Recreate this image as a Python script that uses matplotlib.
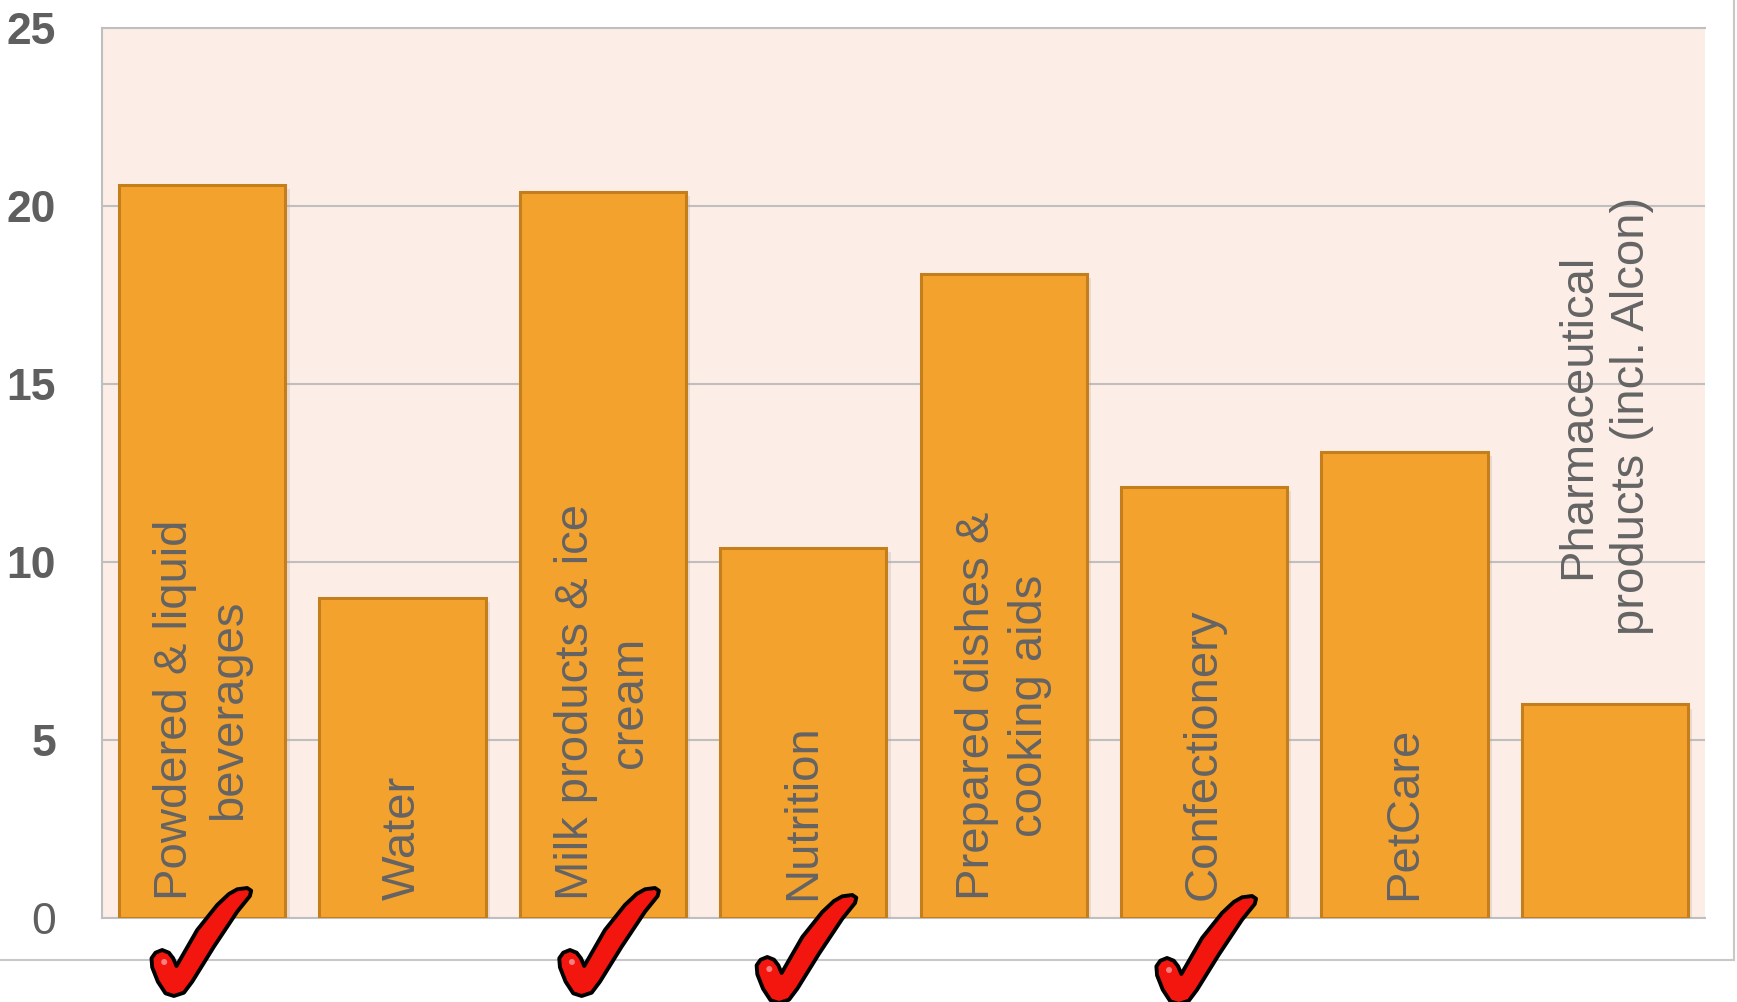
import numpy as np
import matplotlib
matplotlib.use('Agg')
import matplotlib.pyplot as plt
from matplotlib.path import Path
from matplotlib.patches import PathPatch, Circle
from matplotlib.transforms import IdentityTransform
from matplotlib.lines import Line2D
import matplotlib.patheffects as pe

categories = [
    "Powdered & liquid\nbeverages",
    "Water",
    "Milk products & ice\ncream",
    "Nutrition",
    "Prepared dishes &\ncooking aids",
    "Confectionery",
    "PetCare",
    "Pharmaceutical\nproducts (incl. Alcon)",
]
values = [20.6, 9.0, 20.4, 10.4, 18.1, 12.1, 13.1, 6.0]
label_y = [0.5, 0.5, 0.5, 0.5, 0.5, 0.5, 0.5, 7.95]
checked = [0, 2, 3, 5]
check_dx = [-7, 0, -3, -4]
check_dy = [0, 0, 7, 8]
yticks = [0, 5, 10, 15, 20, 25]

BAR = '#F4A22E'
BAR_EDGE = '#C47E1C'
BG = '#FCEEE6'
GRID = '#BFBFBF'
TXT = '#646464'

W, H = 1737, 1002
fig = plt.figure(figsize=(W / 100, H / 100), dpi=100)
ax = fig.add_axes([102 / W, (H - 918) / H, (1705 - 102) / W, (918 - 28) / H])
ax.set_facecolor(BG)

x = np.arange(len(categories))
bars = ax.bar(x, values, width=0.83, color=BAR, edgecolor=BAR_EDGE, linewidth=2.2, zorder=3)
for b in bars:
    b.set_path_effects([pe.SimplePatchShadow(offset=(3, -3), shadow_rgbFace='#b0a098', alpha=0.25), pe.Normal()])

for i, lab in enumerate(categories):
    ax.text(x[i], label_y[i], lab, rotation=90, ha='center', va='bottom',
            multialignment='center', fontsize=34, color=TXT,
            family=['Liberation Sans', 'DejaVu Sans'], zorder=4, linespacing=1.28)

ax.set_xlim(-0.5, len(categories) - 0.5)
ax.set_ylim(0, 25)
ax.set_xticks([])
ax.set_yticks(yticks)
ax.set_yticklabels([str(t) for t in yticks])
ax.tick_params(axis='y', length=0, pad=33, labelsize=32, labelcolor='#5f5f5f')
for t, lbl in zip(yticks, ax.get_yticklabels()):
    lbl.set_family(['Liberation Sans Narrow', 'Liberation Sans', 'DejaVu Sans'])
    lbl.set_fontweight('normal' if t == 0 else 'bold')
ax.grid(axis='y', color=GRID, linewidth=1.5, zorder=0)
ax.set_axisbelow(True)
ax.spines['right'].set_visible(False)
for s in ['left', 'top', 'bottom']:
    ax.spines[s].set_color(GRID)
    ax.spines[s].set_linewidth(1.5)

# slide frame
fig.add_artist(Line2D([0, 1734 / W], [(H - 960) / H] * 2, color='#C8C8C8', lw=1.5,
                      transform=fig.transFigure))
fig.add_artist(Line2D([1734 / W] * 2, [(H - 960) / H, 1], color='#C8C8C8', lw=1.5,
                      transform=fig.transFigure))

# red check marks, outline in pixel offsets from the bar base
check_shape = np.array([
    (-18.7, -48), (2, -12), (22, 13), (33.7, 24), (42, 28.7), (52, 30),
    (56, 27.3), (54.7, 22), (42, 6.3), (18.7, -28.7), (-3, -63.7),
    (-11.3, -74.7), (-21.3, -78), (-29.7, -75.3), (-37.3, -63.7),
    (-43, -49.3), (-43.7, -40.3), (-39.7, -34.7), (-33, -32),
    (-26.3, -34.7), (-22, -40.3), (-18.7, -48),
])
codes = [Path.MOVETO] + [Path.LINETO] * (len(check_shape) - 2) + [Path.CLOSEPOLY]
fig.canvas.draw()
for i, dx, dy in zip(checked, check_dx, check_dy):
    cx, cy = ax.transData.transform((x[i], 0))
    ox, oy = cx + dx, cy - dy
    verts = check_shape + np.array([ox, oy])
    fig.add_artist(PathPatch(Path(verts, codes), facecolor='#F2160E', edgecolor='black',
                             linewidth=2.8, joinstyle='round', transform=IdentityTransform(),
                             zorder=10))
    fig.add_artist(Circle((ox - 31, oy - 44), 3, facecolor='#F88080', edgecolor='none',
                          transform=IdentityTransform(), zorder=11))

fig.savefig('out.png', dpi=100, facecolor='white')
